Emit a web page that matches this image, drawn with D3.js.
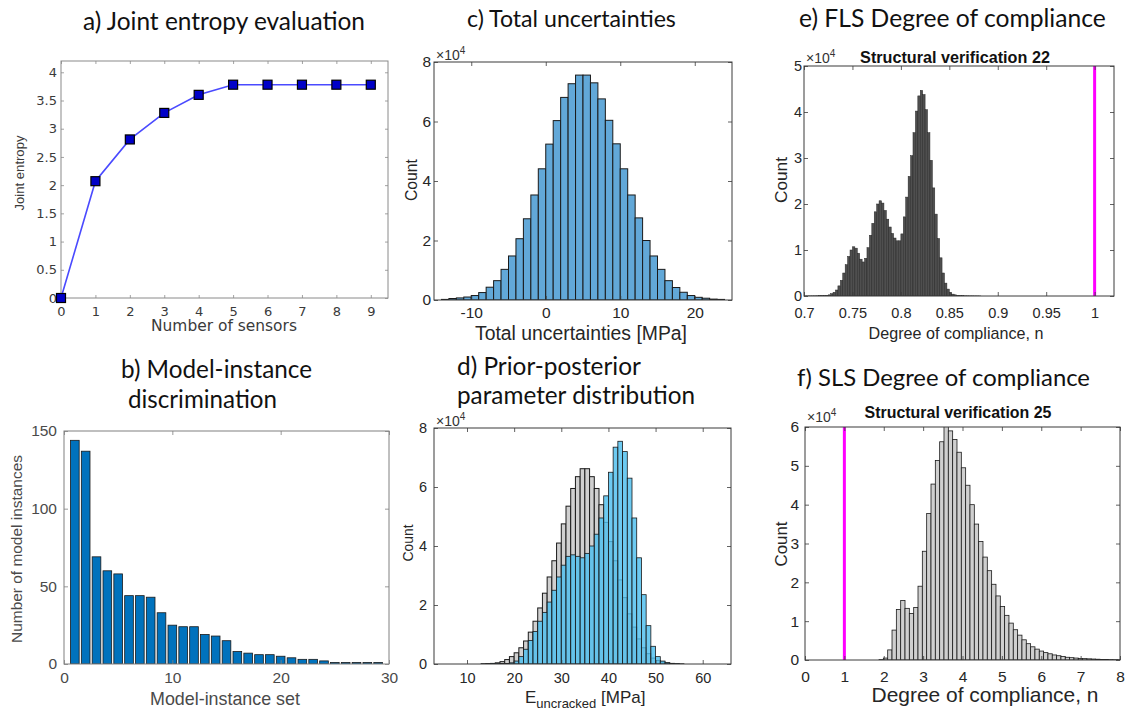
<!DOCTYPE html>
<html>
<head>
<meta charset="utf-8">
<script src="https://cdn.jsdelivr.net/npm/d3@7"></script>
<style>
  body { margin: 0; background: #fff; }
</style>
</head>
<body>
<svg id="fig" width="1125" height="710"></svg>
<script>
// ---- DATA ----

// a) joint entropy
const sensorCounts = [0, 1, 2, 3, 4, 5, 6, 7, 8, 9];
const jointEntropy = [0, 2.07, 2.81, 3.28, 3.60, 3.78, 3.78, 3.78, 3.78, 3.78];

// b) model-instance discrimination
const instanceSets = [1, 2, 3, 4, 5, 6, 7, 8, 9, 10, 11, 12, 13, 14, 15, 16, 17, 18, 19, 20, 21, 22, 23, 24, 25, 26, 27, 28, 29];
const instanceCounts = [144, 137, 69, 60, 58, 44, 44, 43, 33, 25, 24, 24, 19, 18, 15, 8, 7, 6, 6, 5, 4, 3, 3, 2, 1, 1, 1, 1, 1];

// c) total uncertainties, counts in 1e4, bins of 1 MPa from -14
const uncertBinStart = -14;
const uncertBinWidth = 1;
const uncertCounts = [0.02, 0.05, 0.07, 0.1, 0.15, 0.25, 0.43, 0.65, 1.03, 1.48,
  2.06, 2.73, 3.53, 4.41, 5.24, 6.03, 6.81, 7.27, 7.56, 7.56,
  7.3, 6.76, 6.04, 5.25, 4.41, 3.53, 2.76, 2.0, 1.48, 1.03,
  0.65, 0.42, 0.26, 0.15, 0.09, 0.06, 0.03, 0.02];

// d) prior / posterior, counts in 1e4, bins of 1 MPa from 13
const paramBinStart = 13;
const paramBinWidth = 1;
const priorCounts = [0.01, 0.015, 0.02, 0.04, 0.08, 0.15, 0.25, 0.38, 0.55, 0.78,
  1.08, 1.45, 1.9, 2.4, 2.95, 3.5, 4.1, 4.75, 5.35, 5.95,
  6.35, 6.62, 6.62, 6.35, 5.95, 5.4, 4.8, 4.15, 3.5, 2.85,
  2.25, 1.7, 1.25, 0.85, 0.55, 0.35, 0.2, 0.12, 0.07, 0.04,
  0.02, 0.01, 0.005];
const posteriorCounts = [0, 0, 0.005, 0.01, 0.015, 0.02, 0.04, 0.1, 0.25, 0.5,
  0.8, 1.1, 1.45, 1.75, 2.1, 2.5, 2.95, 3.35, 3.65, 3.7,
  3.65, 3.6, 3.75, 4.0, 4.4, 4.95, 5.7, 6.5, 7.35, 7.55,
  7.2, 6.3, 4.95, 3.6, 2.35, 1.3, 0.6, 0.25, 0.1, 0.04,
  0.02, 0.01, 0];

// e) FLS degree of compliance, counts in 1e4
const flsBinStart = 0.7;
const flsBinWidth = 0.0025;
const flsCounts = [0.002, 0.002, 0.003, 0.003, 0.004, 0.005, 0.006, 0.008, 0.01, 0.015,
  0.025, 0.05, 0.08, 0.13, 0.22, 0.34, 0.5, 0.68, 0.86, 1.0,
  1.07, 1.04, 0.93, 0.8, 0.74, 0.82, 1.05, 1.32, 1.58, 1.83,
  2.0, 2.07, 2.02, 1.86, 1.67, 1.5, 1.36, 1.26, 1.2, 1.2,
  1.35, 1.72, 2.15, 2.6, 3.05, 3.55, 4.02, 4.35, 4.47, 4.38,
  4.05, 3.55, 2.95, 2.35, 1.78, 1.25, 0.83, 0.5, 0.28, 0.15,
  0.08, 0.04, 0.025, 0.015, 0.01, 0.007, 0.005, 0.004, 0.003, 0.003,
  0.002, 0.002, 0.001];
const flsLimit = 1;

// f) SLS degree of compliance, counts in 1e4
const slsBinStart = 1.88;
const slsBinWidth = 0.11;
const slsCounts = [0.01, 0.05, 0.26, 0.77, 1.3, 1.53, 1.33, 1.2, 1.35, 1.9,
  2.8, 3.77, 4.53, 5.14, 5.62, 6.03, 5.9, 5.68, 5.35, 4.95,
  4.5, 4.0, 3.5, 3.05, 2.65, 2.3, 1.95, 1.65, 1.38, 1.15,
  0.95, 0.78, 0.64, 0.52, 0.42, 0.34, 0.28, 0.23, 0.19, 0.16,
  0.13, 0.11, 0.09, 0.07, 0.06, 0.05, 0.04, 0.035, 0.03, 0.025,
  0.02, 0.015, 0.012, 0.01, 0.008, 0.006];
const slsLimit = 1;

// ---- HELPERS ----

const svg = d3.select("#fig");
let clipN = 0;

function panel(box, xDomain, yDomain) {
  const sx = d3.scaleLinear().domain(xDomain).range([box.left, box.right]);
  const sy = d3.scaleLinear().domain(yDomain).range([box.bottom, box.top]);
  const g = svg.append("g");
  const id = "clip" + (clipN++);
  g.append("clipPath").attr("id", id).append("rect")
    .attr("x", box.left).attr("y", box.top)
    .attr("width", box.right - box.left).attr("height", box.bottom - box.top);
  const plot = g.append("g").attr("clip-path", `url(#${id})`);
  return { g, plot, sx, sy, box };
}

function axes(p, o) {
  const { g, sx, sy, box } = p;
  const mk = (axis, tx, ty, keep) => {
    const a = g.append("g").attr("transform", `translate(${tx},${ty})`).call(axis);
    a.select(".domain").remove();
    a.selectAll("line").attr("stroke", o.frame).attr("stroke-width", 0.8);
    if (!keep) a.selectAll("text").remove();
    a.selectAll("text")
      .attr("font-family", o.font)
      .attr("font-size", o.size)
      .attr("fill", o.color);
    return a;
  };
  const xf = o.xFmt || (d => String(d));
  mk(d3.axisBottom(sx).tickValues(o.xTicks).tickFormat(xf)
    .tickSizeInner(-o.tick).tickSizeOuter(0).tickPadding(o.xPad), 0, box.bottom, true);
  mk(d3.axisTop(sx).tickValues(o.xTicks)
    .tickSizeInner(-o.tick).tickSizeOuter(0), 0, box.top, false);
  mk(d3.axisLeft(sy).tickValues(o.yTicks).tickFormat(d => String(d))
    .tickSizeInner(-o.tick).tickSizeOuter(0).tickPadding(o.yPad), box.left, 0, true);
  mk(d3.axisRight(sy).tickValues(o.yTicks)
    .tickSizeInner(-o.tick).tickSizeOuter(0), box.right, 0, false);

  g.append("rect")
    .attr("x", box.left).attr("y", box.top)
    .attr("width", box.right - box.left).attr("height", box.bottom - box.top)
    .attr("fill", "none").attr("stroke", o.frame).attr("stroke-width", 1);
}

function hist(p, start, width, counts, fill, stroke, sw, opacity) {
  const { plot, sx, sy } = p;
  plot.append("g")
    .selectAll("rect")
    .data(counts)
    .join("rect")
    .attr("x", (d, i) => sx(start + i * width))
    .attr("width", (d, i) => sx(start + (i + 1) * width) - sx(start + i * width))
    .attr("y", d => sy(d))
    .attr("height", d => sy(0) - sy(d))
    .attr("fill", fill)
    .attr("fill-opacity", opacity == null ? 1 : opacity)
    .attr("stroke", stroke)
    .attr("stroke-width", sw);
}

// text fitted to a width measured on the picture
function fitted(txt, x, y, w, o) {
  const t = svg.append("text")
    .attr("x", x).attr("y", y)
    .attr("font-family", o.font)
    .attr("font-size", 20)
    .attr("font-weight", o.weight || "normal")
    .attr("fill", o.color || "#1a1a1a")
    .attr("text-anchor", o.anchor || "middle")
    .text(txt);
  if (o.rotate) t.attr("transform", `rotate(-90,${x},${y})`);
  const len = t.node().getComputedTextLength();
  t.attr("font-size", (20 * w / len).toFixed(2));
  return t;
}

function exponent(x, y) {
  const t = svg.append("text")
    .attr("x", x).attr("y", y)
    .attr("font-family", "Liberation Sans, Arial, sans-serif")
    .attr("font-size", 14)
    .attr("fill", "#333");
  t.append("tspan").text("\u00d710");
  t.append("tspan").attr("dy", -6).attr("font-size", 10).text("4");
}

const sans = "Liberation Sans, Arial, sans-serif";
const titleFont = "Lato, 'Open Sans', sans-serif";

// ---- TITLES ----

const titleTexts = ["a) Joint entropy evaluation", "b) Model-instance", "discrimination",
  "c) Total uncertainties", "d) Prior-posterior", "parameter distribution",
  "e) FLS Degree of compliance", "f) SLS Degree of compliance"];
const titleLeft = [83, 121, 128, 467, 457, 457, 799, 797];
const titleBase = [29.5, 377.5, 408, 26.5, 375, 403.5, 26.5, 386];
const titleWidth = [282, 191, 149, 209, 184, 238, 307, 293];

titleTexts.forEach((t, i) =>
  fitted(t, titleLeft[i], titleBase[i], titleWidth[i], { font: titleFont, anchor: "start", color: "#111" })
);

// ---- a) JOINT ENTROPY ----

const pa = panel({ left: 61, right: 388, top: 61, bottom: 298 }, [0, 9.5], [0, 4.2]);
axes(pa, {
  xTicks: sensorCounts, yTicks: [0, 0.5, 1, 1.5, 2, 2.5, 3, 3.5, 4],
  tick: 3, xPad: 8.5, yPad: 4, font: "DejaVu Sans, sans-serif", size: 13,
  color: "#3a3a3a", frame: "#8a8a8a"
});
const entropyPts = sensorCounts.map((s, i) => [s, jointEntropy[i]]);
pa.g.append("path")
  .datum(entropyPts)
  .attr("fill", "none")
  .attr("stroke", "#4a4aff")
  .attr("stroke-width", 1.6)
  .attr("d", d3.line().x(d => pa.sx(d[0])).y(d => pa.sy(d[1])));
pa.g.append("g")
  .selectAll("rect")
  .data(entropyPts)
  .join("rect")
  .attr("x", d => pa.sx(d[0]) - 4.5)
  .attr("y", d => pa.sy(d[1]) - 4.5)
  .attr("width", 9).attr("height", 9)
  .attr("fill", "#0000c8")
  .attr("stroke", "#000")
  .attr("stroke-width", 1.2);
fitted("Joint entropy", 24, 173, 75, { font: sans, rotate: true, color: "#3a3a3a" });
fitted("Number of sensors", 224, 331, 146, { font: "DejaVu Sans, sans-serif", color: "#3a3a3a" });

// ---- b) MODEL-INSTANCE DISCRIMINATION ----

const pb = panel({ left: 64, right: 389, top: 431, bottom: 664 }, [0, 30], [0, 150]);
pb.plot.append("g")
  .selectAll("rect")
  .data(instanceSets)
  .join("rect")
  .attr("x", (d) => pb.sx(d - 0.4))
  .attr("width", pb.sx(0.8) - pb.sx(0))
  .attr("y", (d, i) => pb.sy(instanceCounts[i]))
  .attr("height", (d, i) => pb.sy(0) - pb.sy(instanceCounts[i]))
  .attr("fill", "#0072bd")
  .attr("stroke", "#1a1a1a")
  .attr("stroke-width", 0.8);
axes(pb, {
  xTicks: [0, 10, 20, 30], yTicks: [0, 50, 100, 150],
  tick: 4, xPad: 7.5, yPad: 7, font: sans, size: 15.5,
  color: "#4a4a4a", frame: "#808080"
});
fitted("Number of model instances", 22, 549, 188, { font: sans, rotate: true, color: "#4a4a4a" });
fitted("Model-instance set", 225, 705, 150, { font: sans, color: "#4a4a4a" });

// ---- c) TOTAL UNCERTAINTIES ----

const pc = panel({ left: 434, right: 732, top: 62, bottom: 300 }, [-15, 25], [0, 8]);
hist(pc, uncertBinStart, uncertBinWidth, uncertCounts, "#62a8d8", "#1a1a1a", 1);
axes(pc, {
  xTicks: [-10, 0, 10, 20], yTicks: [0, 2, 4, 6, 8],
  tick: 4, xPad: 7, yPad: 3, font: sans, size: 15.5,
  color: "#262626", frame: "#3a3a3a"
});
exponent(436, 60);
fitted("Count", 417, 180, 42, { font: sans, rotate: true, color: "#262626" });
fitted("Total uncertainties [MPa]", 581, 340, 212, { font: sans, color: "#262626" });

// ---- d) PRIOR-POSTERIOR ----

const pd = panel({ left: 434, right: 731, top: 428, bottom: 664 }, [3, 66], [0, 8]);
hist(pd, paramBinStart, paramBinWidth, priorCounts, "#d0d0d0", "#1a1a1a", 1);
hist(pd, paramBinStart, paramBinWidth, posteriorCounts, "#4dbeee", "#1a1a1a", 0.8, 0.82);
axes(pd, {
  xTicks: [10, 20, 30, 40, 50, 60], yTicks: [0, 2, 4, 6, 8],
  tick: 4, xPad: 9, yPad: 7, font: sans, size: 14.5,
  color: "#262626", frame: "#3a3a3a"
});
exponent(436, 426);
fitted("Count", 413, 543, 37, { font: sans, rotate: true, color: "#262626" });
const eLabel = svg.append("text")
  .attr("x", 525).attr("y", 703)
  .attr("font-family", sans).attr("font-size", 17).attr("fill", "#262626");
eLabel.append("tspan").text("E");
eLabel.append("tspan").attr("dy", 5).attr("font-size", 13).text("uncracked");
eLabel.append("tspan").attr("dy", -5).text(" [MPa]");

// ---- e) FLS DEGREE OF COMPLIANCE ----

const pe = panel({ left: 804, right: 1114, top: 66, bottom: 296 }, [0.7, 1.02], [0, 5]);
hist(pe, flsBinStart, flsBinWidth, flsCounts, "#4f4f4f", "#262626", 0.5);
pe.plot.append("line")
  .attr("x1", pe.sx(flsLimit)).attr("x2", pe.sx(flsLimit))
  .attr("y1", pe.box.top).attr("y2", pe.box.bottom)
  .attr("stroke", "#ff00ff").attr("stroke-width", 3);
axes(pe, {
  xTicks: [0.7, 0.75, 0.8, 0.85, 0.9, 0.95, 1], yTicks: [0, 1, 2, 3, 4, 5],
  tick: 4, xPad: 11.5, yPad: 2, font: sans, size: 14.5,
  color: "#262626", frame: "#3a3a3a"
});
exponent(806, 63);
fitted("Structural verification 22", 955, 63, 190, { font: sans, weight: "bold", color: "#111" });
fitted("Count", 787, 180, 46, { font: sans, rotate: true, color: "#262626" });
fitted("Degree of compliance, n", 956, 339, 175, { font: sans, color: "#262626" });

// ---- f) SLS DEGREE OF COMPLIANCE ----

const pf = panel({ left: 805, right: 1120, top: 427, bottom: 660 }, [0, 8], [0, 6]);
hist(pf, slsBinStart, slsBinWidth, slsCounts, "#cfcfcf", "#1a1a1a", 0.8);
pf.plot.append("line")
  .attr("x1", pf.sx(slsLimit)).attr("x2", pf.sx(slsLimit))
  .attr("y1", pf.box.top).attr("y2", pf.box.bottom)
  .attr("stroke", "#ff00ff").attr("stroke-width", 3);
axes(pf, {
  xTicks: [0, 1, 2, 3, 4, 5, 6, 7, 8], yTicks: [0, 1, 2, 3, 4, 5, 6],
  tick: 4, xPad: 10.5, yPad: 6, font: sans, size: 15.5,
  color: "#262626", frame: "#3a3a3a"
});
exponent(807, 422);
fitted("Structural verification 25", 958, 418, 187, { font: sans, weight: "bold", color: "#111" });
fitted("Count", 787, 544, 45, { font: sans, rotate: true, color: "#262626" });
fitted("Degree of compliance, n", 985, 702, 227, { font: sans, color: "#262626" });
</script>
</body>
</html>
